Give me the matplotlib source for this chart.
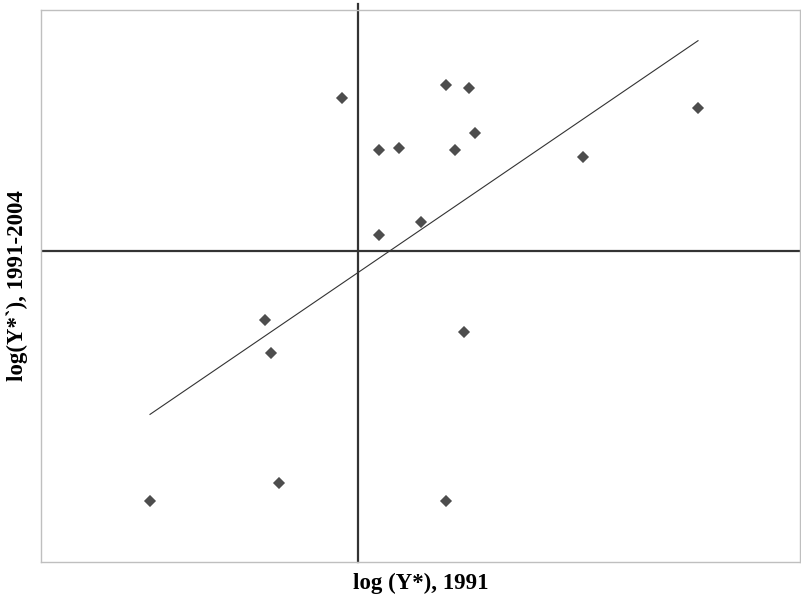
import numpy as np
import matplotlib
matplotlib.use("Agg")
import matplotlib.pyplot as plt

# log initial output gap (1991) vs. average growth gap 1991-2004
x_1991 = [-0.16, 0.21, 0.41, 0.88, 1.11, 0.97, 1.17, 2.25, 3.40,
          0.63, 0.21, -0.93, -0.87, 1.06, -2.08, -0.79, 0.88]
y_growth = [1.53, 1.01, 1.03, 1.66, 1.63, 1.01, 1.18, 0.94, 1.43,
            0.29, 0.16, -0.69, -1.02, -0.81, -2.50, -2.32, -2.50]

x_label = "log (Y*), 1991"
y_label = "log(Y*`), 1991-2004"

plt.rcParams["font.family"] = ["Liberation Serif", "DejaVu Serif"]

fig = plt.figure(figsize=(8.01, 5.98), dpi=100)
ax = fig.add_axes([41 / 801, 36 / 598, 759 / 801, 552 / 598])

x = np.array(x_1991)
y = np.array(y_growth)

# OLS trend line across the observed range
slope, icept = np.polyfit(x, y, 1)
xs = np.array([x.min(), x.max()])
ax.plot(xs, icept + slope * xs, color="#333333", lw=0.8, zorder=2)

ax.scatter(x, y, marker="D", s=38, color="#4d4d4d", edgecolors="none", zorder=3)

# crosshair at the origin
ax.axhline(0, color="#333333", lw=1.6, zorder=1)
ax.axvline(0, ymin=0, ymax=1.01, color="#333333", lw=1.6, zorder=1, clip_on=False)

ax.set_xlim(-3.17, 4.42)
ax.set_ylim(-3.11, 2.41)
ax.set_xticks([])
ax.set_yticks([])
for sp in ax.spines.values():
    sp.set_color("#bfbfbf")
    sp.set_linewidth(1.0)

ax.set_xlabel(x_label, fontsize=16.5, fontweight="bold", labelpad=8)
ax.set_ylabel(y_label, fontsize=16.5, fontweight="bold", labelpad=9)

fig.savefig("out.png", dpi=100)
